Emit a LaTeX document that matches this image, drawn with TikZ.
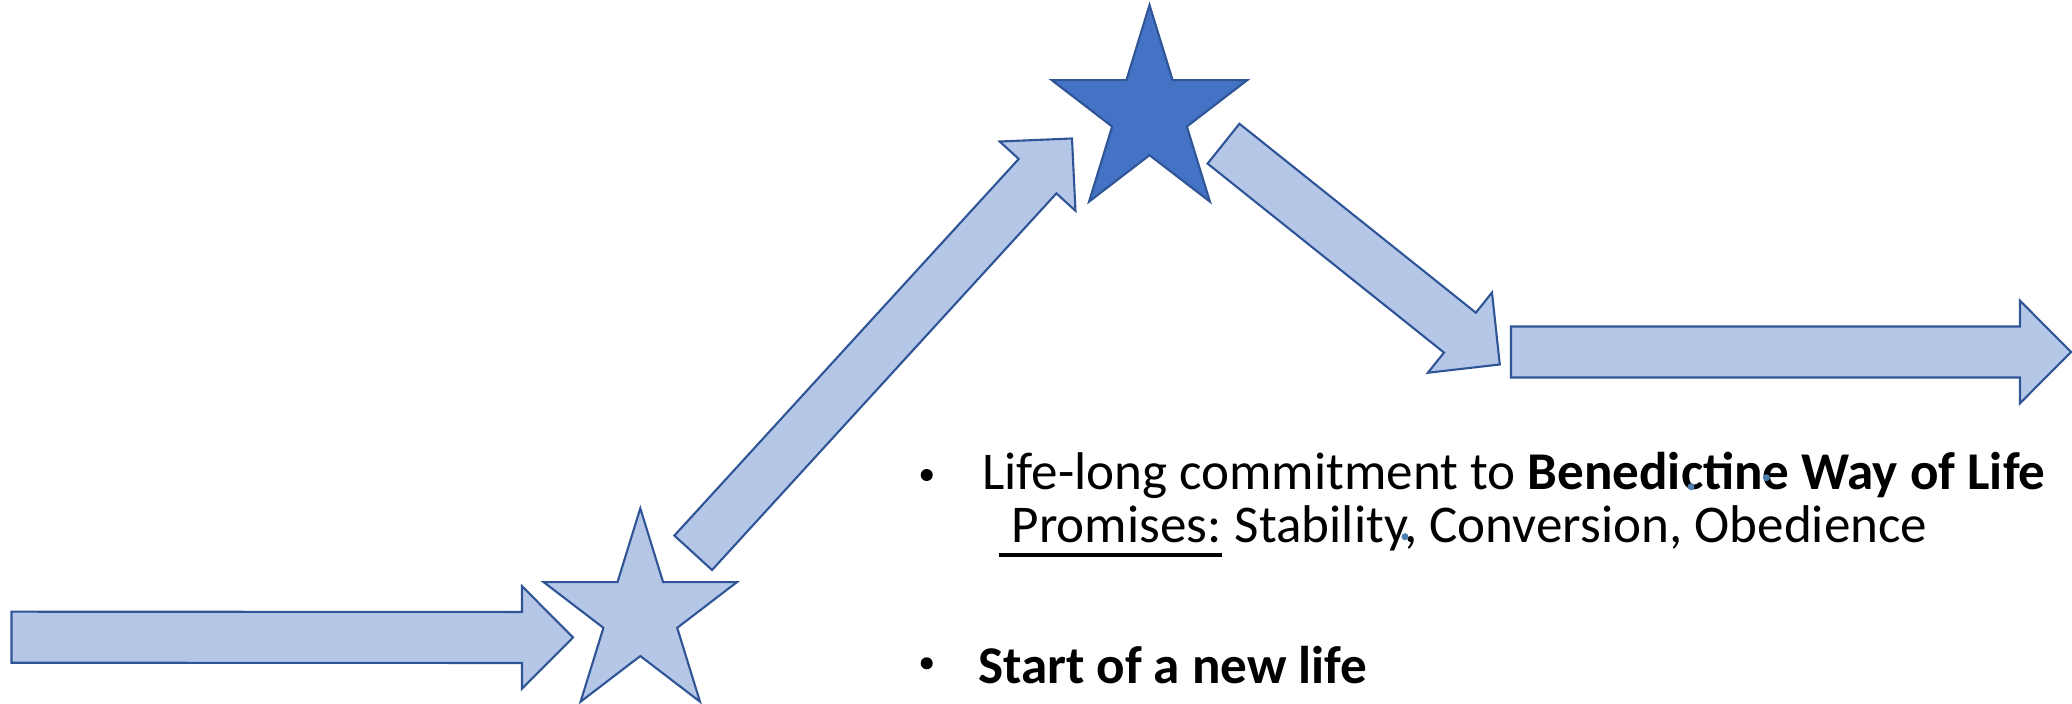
\documentclass[tikz,border=0pt]{standalone}
\usepackage{fontspec}
\setmainfont{Carlito}
\usetikzlibrary{calc}
\definecolor{shapefill}{HTML}{B4C7E7}
\definecolor{shapeline}{HTML}{2F5597}
\definecolor{starfill}{HTML}{4472C4}
\definecolor{dotblue}{HTML}{4A7EAD}
\tikzset{
  lightshape/.style={fill=shapefill, draw=shapeline, line width=0.6pt, line join=miter},
  darkshape/.style={fill=starfill, draw=shapeline, line width=0.6pt, line join=miter},
  txt/.style={anchor=base west, inner sep=0pt, font=\fontsize{15.1}{18}\selectfont},
  bulletdot/.style={circle, fill=black, inner sep=0pt, minimum size=0.12cm},
  speck/.style={circle, fill=dotblue, inner sep=0pt, minimum size=0.07cm},
}
% block arrow: #1 tail coordinate, #2 tip coordinate, #3 name for head base
\newcommand{\blockarrow}[3]{%
  \coordinate (#3) at ($(#2)!0.51cm!(#1)$);
  \draw[lightshape] ($(#1)!0.255cm!90:(#2)$) -- ($(#3)!0.255cm!90:(#2)$)
    -- ($(#3)!0.513cm!90:(#2)$) -- (#2) -- ($(#3)!0.513cm!-90:(#2)$)
    -- ($(#3)!0.255cm!-90:(#2)$) -- ($(#1)!0.255cm!-90:(#2)$) -- cycle;
}
% five-point star: #1 name, #2 cx, #3 cy, #4 R, #5 x-scale, #6 style
\newcommand{\pentastar}[6]{%
  \coordinate (#1) at (#2,#3);
  \draw[#6] (#2,#3-#4)
    \foreach \a/\f in {36/0.382,72/1,108/0.382,144/1,180/0.382,216/1,252/0.382,288/1,324/0.382}
      { -- ({#2+#5*#4*\f*sin(\a)},{#3-#4*\f*cos(\a)}) } -- cycle;
}
\begin{document}
\begin{tikzpicture}[x=0.01cm,y=-0.01cm]
\useasboundingbox (0,0) rectangle (2072,704);

% arrows
\coordinate (a1tail) at (11.5,637.2);
\coordinate (a1tip) at (573,637.5);
\coordinate (a2tail) at (693.2,552.8);
\coordinate (a2tip) at (1072,138.5);
\coordinate (a3tail) at (1223.5,143.7);
\coordinate (a3tip) at (1499.8,364.5);
\coordinate (a4tail) at (1511,352);
\coordinate (a4tip) at (2071,352);
\blockarrow{a1tail}{a1tip}{a1head}
\blockarrow{a2tail}{a2tip}{a2head}
\blockarrow{a3tail}{a3tip}{a3head}
\blockarrow{a4tail}{a4tip}{a4head}

% stars
\pentastar{smallstar}{640.3}{615.2}{106.9}{0.95}{lightshape}
\pentastar{bigstar}{1149.5}{113.7}{108.7}{0.946}{darkshape}

% text
\node[bulletdot] (b1) at (926.7,475) {};
\node[txt] (line1) at (981.7,490) {Life-long commitment to \textbf{Benedictine Way of Life}};
\node[txt] (prom) at (999,543) {\ Promises:};
\draw[line width=0.035cm] ($(prom.base west)+(0,12)$) -- ($(prom.base east)+(0,12)$);
\node[txt] (vows) at (prom.base east) {\ Stability, Conversion, Obedience};
\node[bulletdot] (b2) at (926.7,663.3) {};
\node[txt] (line3) at (977.3,683.3) {\textbf{Start of a new life}};

% small specks
\node[speck] (s1) at (1405,536.7) {};
\node[speck] (s2) at (1691.1,486.7) {};
\node[speck] (s3) at (1766.4,477.7) {};
\end{tikzpicture}
\end{document}
